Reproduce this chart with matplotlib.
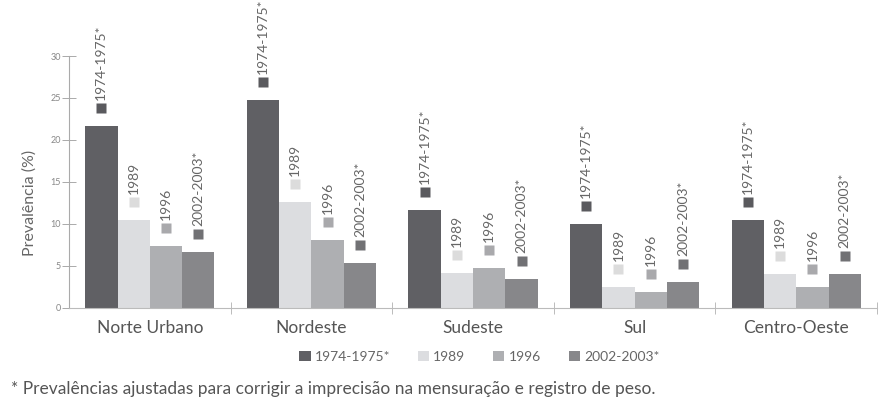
import numpy as np
import matplotlib
matplotlib.use("Agg")
import matplotlib.pyplot as plt
from matplotlib.transforms import offset_copy
from matplotlib.patches import Patch

plt.rcParams['font.family'] = ['Lato', 'DejaVu Sans']

regions = ["Norte Urbano", "Nordeste", "Sudeste", "Sul", "Centro-Oeste"]
periods = ["1974-1975*", "1989", "1996", "2002-2003*"]
v1974 = [21.6, 24.7, 11.6, 10.0, 10.5]
v1989 = [10.4, 12.6, 4.1, 2.4, 4.0]
v1996 = [7.4, 8.0, 4.7, 1.8, 2.5]
v2002 = [6.6, 5.3, 3.4, 3.0, 4.0]
yticks = [0, 5, 10, 15, 20, 25, 30]
footnote = "* Prevalências ajustadas para corrigir a imprecisão na mensuração e registro de peso."

values = [v1974, v1989, v1996, v2002]
bar_colors = ["#606064", "#dcdde0", "#aeafb2", "#87878a"]
mark_colors = ["#5a5a5e", "#dcdcdc", "#a9a9ac", "#717174"]
text_col = "#666666"

fig = plt.figure(figsize=(8.86, 4.09), dpi=100)
ax = fig.add_axes([0.0779, 0.248, 0.912, 0.752])

x = np.arange(len(regions))
w = 0.2
up_mark = offset_copy(ax.transData, fig=fig, y=18, units='dots')
up_text = offset_copy(ax.transData, fig=fig, y=26, units='dots')
for j, vals in enumerate(values):
    xs = x + (j - 1.5) * w
    ax.bar(xs, vals, width=w, color=bar_colors[j], edgecolor='none')
    ax.plot(xs, vals, 's', ms=6.5, color=mark_colors[j], mec='none',
            transform=up_mark, clip_on=False)
    for xi, v in zip(xs, vals):
        ax.text(xi, v, periods[j], rotation=90, ha='center', va='bottom',
                fontsize=10, color=text_col, transform=up_text, clip_on=False)

ax.set_xlim(-0.5, 4.5)
ax.set_ylim(0, 36.68)
for s in ['top', 'right']:
    ax.spines[s].set_visible(False)
ax.spines['left'].set_bounds(0, 30)
ax.spines['left'].set_color('#aaaaaa')
ax.spines['bottom'].set_color('#bbbbbb')
ax.spines['left'].set_linewidth(0.8)
ax.spines['bottom'].set_linewidth(0.8)

ax.set_yticks(yticks)
ax.set_yticklabels([str(t) for t in yticks])
ax.tick_params(axis='y', direction='inout', length=10, width=0.7,
               color='#aaaaaa', labelcolor='#888888', labelsize=6.5, pad=1)
ax.set_xticks(x)
ax.set_xticklabels(regions)
ax.tick_params(axis='x', which='major', length=0, labelsize=12.5,
               labelcolor='#555555', pad=9)
ax.set_xticks(np.arange(0.5, 5.0, 1.0), minor=True)
ax.tick_params(axis='x', which='minor', direction='inout', length=9,
               width=0.7, color='#bbbbbb')

ax.set_ylabel("Prevalência (%)", fontsize=11.5, color=text_col)
ax.yaxis.set_label_coords(-0.04, 12.5 / 36.68)

handles = [Patch(facecolor=c, edgecolor='none') for c in bar_colors]
fig.legend(handles, periods, loc='center', bbox_to_anchor=(0.541, 0.128),
           ncol=4, frameon=False, fontsize=10, labelcolor=text_col,
           handlelength=0.8, handleheight=0.8, handletextpad=0.3,
           columnspacing=2.0)

fig.text(0.012, 0.049, footnote, fontsize=12.5, color='#555555', va='center')

fig.savefig("out.png", dpi=100)
